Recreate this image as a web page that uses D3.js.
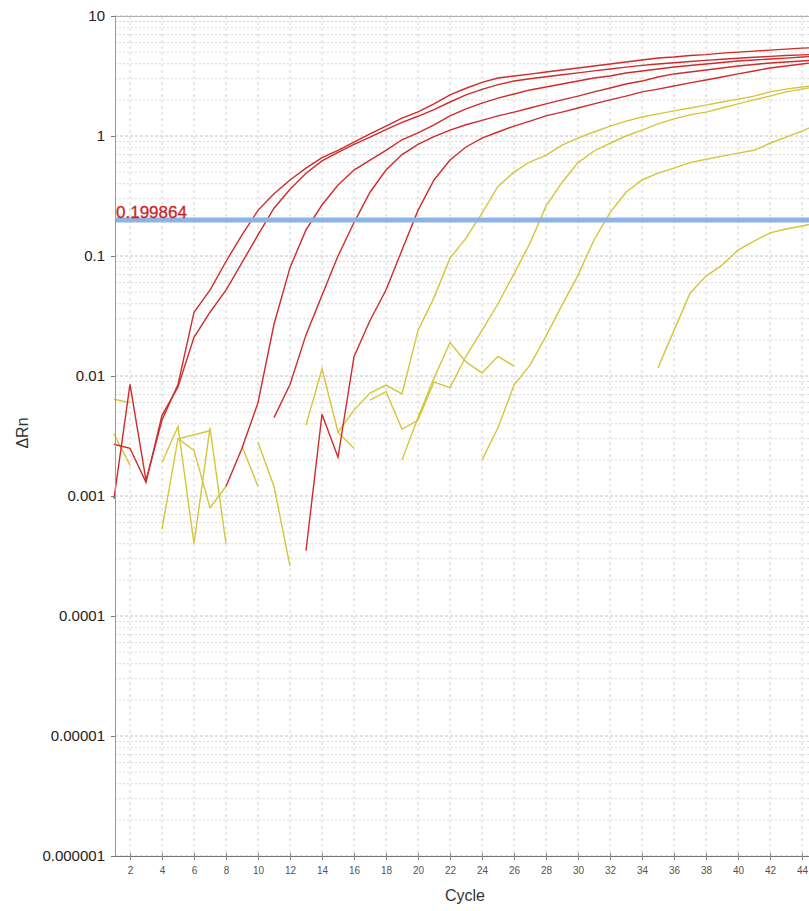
<!DOCTYPE html>
<html>
<head>
<meta charset="utf-8">
<script src="https://cdn.jsdelivr.net/npm/d3@7"></script>
<style>
body{margin:0;background:#fff}
svg{display:block;font-family:"Liberation Sans",Arial,sans-serif}
</style>
</head>
<body>
<div id="chart"></div>
<script>
const _ = null

// cycle numbers, one per column of the series arrays below
const cycles = [1,2,3,4,5,6,7,8,9,10,11,12,13,14,15,16,17,18,19,20,21,22,23,24,25,26,27,28,29,30,31,32,33,34,35,36,37,38,39,40,41,42,43,44,45]

// red wells (dRn per cycle, null = not plotted)
const redA = [0.00095,0.0085,0.00135,0.0043,0.0085,0.034,0.052,0.09,0.15,0.24,0.33,0.43,0.54,0.66,0.76,0.89,1.04,1.21,1.41,1.59,1.85,2.2,2.5,2.8,3.04,3.16,3.28,3.41,3.55,3.69,3.83,3.98,4.14,4.3,4.47,4.55,4.69,4.77,4.9,5.0,5.1,5.2,5.3,5.4,5.45]
const redB = [0.0027,0.0025,0.0013,0.0047,0.0081,0.021,0.034,0.052,0.088,0.15,0.25,0.36,0.49,0.62,0.73,0.85,0.98,1.13,1.3,1.46,1.66,1.92,2.2,2.45,2.68,2.87,3.0,3.12,3.24,3.36,3.49,3.62,3.75,3.88,3.98,4.08,4.18,4.27,4.36,4.45,4.53,4.61,4.68,4.74,4.8]
const redC = [_,_,_,_,_,_,_,0.0012,0.0025,0.006,0.027,0.08,0.165,0.266,0.39,0.52,0.63,0.76,0.93,1.06,1.24,1.47,1.68,1.88,2.07,2.24,2.42,2.56,2.71,2.87,3.04,3.16,3.35,3.48,3.62,3.76,3.87,3.98,4.1,4.22,4.3,4.38,4.46,4.55,4.64]
const redD = [_,_,_,_,_,_,_,_,_,_,0.0045,0.0085,0.022,0.047,0.1,0.19,0.34,0.52,0.7,0.85,0.99,1.12,1.24,1.35,1.47,1.58,1.71,1.85,2.0,2.15,2.33,2.51,2.71,2.87,3.1,3.29,3.41,3.55,3.69,3.83,3.94,4.06,4.14,4.22,4.3]
const redE = [_,_,_,_,_,_,_,_,_,_,_,_,0.00035,0.0048,0.0021,0.0145,0.029,0.052,0.112,0.24,0.43,0.63,0.81,0.96,1.08,1.21,1.33,1.47,1.58,1.71,1.85,2.0,2.15,2.33,2.46,2.61,2.77,2.93,3.1,3.29,3.48,3.69,3.83,3.98,4.14]

// yellow wells
const yelA = [_,_,_,_,_,_,_,_,_,_,_,_,_,_,0.0034,0.0052,0.0072,0.0084,0.0071,0.024,0.045,0.096,0.141,0.228,0.38,0.5,0.61,0.69,0.84,0.96,1.08,1.21,1.33,1.44,1.53,1.62,1.71,1.81,1.92,2.03,2.15,2.33,2.46,2.56,2.66]
const yelB = [_,_,_,_,_,_,_,_,_,_,_,_,_,_,_,_,0.0063,0.0074,0.0036,0.0043,0.0089,0.008,0.0146,0.024,0.04,0.071,0.128,0.26,0.41,0.6,0.75,0.87,1.0,1.12,1.26,1.39,1.5,1.58,1.71,1.85,2.0,2.15,2.33,2.46,2.61]
const yelC = [_,_,_,_,_,_,_,_,_,_,_,_,_,_,_,_,_,_,_,_,_,_,_,0.002,0.0037,0.0084,0.0123,0.0215,0.039,0.069,0.136,0.23,0.34,0.43,0.49,0.54,0.6,0.64,0.68,0.72,0.76,0.87,0.98,1.1,1.26]
const yelD = [_,_,_,_,_,_,_,_,_,_,_,_,_,_,_,_,_,_,_,_,_,_,_,_,_,_,_,_,_,_,_,_,_,_,0.0117,0.024,0.049,0.068,0.084,0.112,0.133,0.156,0.168,0.178,0.19]

// yellow wells that never amplified (baseline noise)
const noise1 = [0.0064,0.006]
const noise2 = [0.0033,0.0018]
const noise3 = [_,_,_,0.0019,0.0038,0.0004,0.0037,0.0004]
const noise4 = [_,_,_,0.00053,0.003,_,0.0035]
const noise5 = [_,_,_,_,0.003,0.0024,0.0008,0.0012]
const noise6 = [_,_,_,_,_,_,_,_,0.0026,0.0012]
const noise7 = [_,_,_,_,_,_,_,_,_,0.0028,0.0012,0.00026]
const noise8 = [_,_,_,_,_,_,_,_,_,_,_,_,0.0039,0.0115,0.0034,0.0025]
const noise9 = [_,_,_,_,_,_,_,_,_,_,_,_,_,_,_,_,_,_,0.002,0.0045,0.0096,0.019,0.0131,0.0106,0.0146,0.0121]

const threshold = 0.199864

const xTicks = [2,4,6,8,10,12,14,16,18,20,22,24,26,28,30,32,34,36,38,40,42,44]
const yTicks = [10,1,0.1,0.01,0.001,0.0001,0.00001,0.000001]
const yTickLabels = ['10','1','0.1','0.01','0.001','0.0001','0.00001','0.000001']

const redSeries = [redA,redB,redC,redD,redE]
const yellowSeries = [noise1,noise2,noise3,noise4,noise5,noise6,noise7,noise8,noise9,yelA,yelB,yelC,yelD]

const margin = ({top: 16, right: 0, bottom: 55, left: 115})
const width = 809-margin.left-margin.right,
  height = 911-margin.top-margin.bottom

let svg = d3.select('#chart').append('svg')
	.attr('width',width+margin.left+margin.right)
	.attr('height',height+margin.top+margin.bottom)
	.append('g')
	.attr('transform','translate('+margin.left+','+margin.top+')')

let xScale = d3.scaleLinear()
	.domain([1,45])
	.range([-1,703])

let yScale = d3.scaleLog()
	.domain([0.000001,10])
	.range([height,0])

// grid: minor log lines, decade lines, even cycle lines
let minor = []
yTicks.slice(1).forEach(d=>{
	for(let k=2;k<10;k++) minor.push(d*k)
})
svg.append('g').selectAll('line').data(minor).join('line')
	.attr('x1',0).attr('x2',width)
	.attr('y1',d=>yScale(d)).attr('y2',d=>yScale(d))
	.attr('stroke','#d8d8d8').attr('stroke-dasharray','2,2')

svg.append('g').selectAll('line').data(yTicks).join('line')
	.attr('x1',0).attr('x2',width)
	.attr('y1',d=>yScale(d)).attr('y2',d=>yScale(d))
	.attr('stroke','#c4c4c4').attr('stroke-dasharray','3,2')

svg.append('g').selectAll('line').data(xTicks).join('line')
	.attr('x1',d=>xScale(d)).attr('x2',d=>xScale(d))
	.attr('y1',0).attr('y2',height)
	.attr('stroke','#d4d4d4').attr('stroke-dasharray','3,3')

svg.append('line')
	.attr('x1',0).attr('x2',width).attr('y1',0.5).attr('y2',0.5)
	.attr('stroke','#b0b0b0')

// curves
const line = d3.line()
	.x(d=>xScale(d[0]))
	.y(d=>yScale(d[1]))

function points(values){
	return values.map((v,i)=>[cycles[i],v]).filter(d=>d[1]!=null)
}

svg.append('g').selectAll('path').data(yellowSeries).join('path')
	.attr('d',d=>line(points(d)))
	.attr('fill','none')
	.attr('stroke','#d6c53a')
	.attr('stroke-width',1.4)

svg.append('g').selectAll('path').data(redSeries).join('path')
	.attr('d',d=>line(points(d)))
	.attr('fill','none')
	.attr('stroke','#d02b2b')
	.attr('stroke-width',1.4)

// threshold
svg.append('line')
	.attr('x1',0).attr('x2',width)
	.attr('y1',yScale(threshold)).attr('y2',yScale(threshold))
	.attr('stroke','#8db3e2')
	.attr('stroke-width',5)

svg.append('text')
	.attr('x',1)
	.attr('y',yScale(threshold)-2)
	.attr('fill','#cc2424')
	.attr('stroke','#cc2424')
	.attr('stroke-width',0.3)
	.style('font-size','17px')
	.text(threshold)

// axes
let xAxis = d3.axisBottom()
	.scale(xScale)
	.tickValues(xTicks)
	.tickSize(4)
	.tickPadding(7)

let yAxis = d3.axisLeft()
	.scale(yScale)
	.tickValues(yTicks)
	.tickFormat((d,i)=>yTickLabels[i])
	.tickSize(4)
	.tickPadding(6)

svg.append('g')
	.attr('class','x-axis')
	.attr('transform',`translate(0,${height})`)
	.call(xAxis)

svg.append('g')
	.attr('class','y-axis')
	.call(yAxis)

svg.select('.x-axis .domain').attr('stroke','#777').attr('d',`M0,0.5H${width}`)
svg.selectAll('.x-axis .tick line').attr('stroke','#888').attr('y1',-3)
svg.selectAll('.x-axis text').attr('fill','#555').style('font-size','10px')
svg.select('.y-axis .domain').attr('stroke','#999').attr('d',`M0.5,0V${height}`)
svg.selectAll('.y-axis .tick line').attr('stroke','#777')
svg.selectAll('.y-axis text').attr('fill','#222').style('font-size','15px')

// axis titles
svg.append('text')
	.attr('x',465-margin.left)
	.attr('y',height+45)
	.attr('text-anchor','middle')
	.attr('fill','#333')
	.style('font-size','16px')
	.text('Cycle')

svg.append('text')
	.attr('transform',`translate(${28-margin.left},${433-margin.top}) rotate(-90)`)
	.attr('text-anchor','middle')
	.attr('fill','#333')
	.style('font-size','16px')
	.text('ΔRn')
</script>
</body>
</html>
